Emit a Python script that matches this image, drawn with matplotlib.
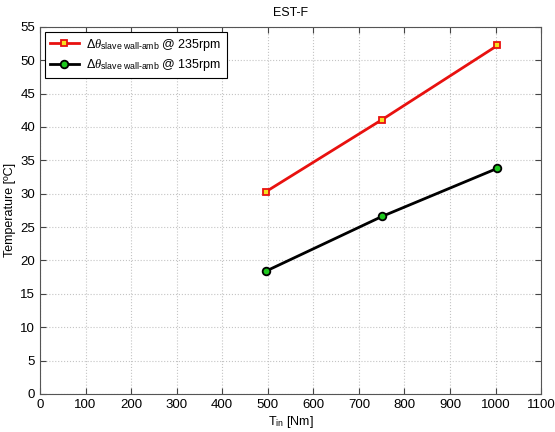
import matplotlib
matplotlib.use("Agg")
import matplotlib.pyplot as plt

plt.rcParams['font.family'] = ['Liberation Sans', 'DejaVu Sans']
plt.rcParams['mathtext.fontset'] = 'custom'
plt.rcParams['mathtext.rm'] = 'Liberation Sans'
plt.rcParams['mathtext.it'] = 'Liberation Serif:italic'

torque_in = [496, 751, 1004]
dtheta_235 = [30.3, 41.1, 52.2]
dtheta_135 = [18.4, 26.6, 33.8]
labels = [r'$\Delta\theta_{\mathrm{slave\ wall\text{-}amb}}$ @ 235rpm',
          r'$\Delta\theta_{\mathrm{slave\ wall\text{-}amb}}$ @ 135rpm']

fig = plt.figure(figsize=(5.55, 4.32), dpi=100)
ax = fig.add_axes([0.072, 0.088, 0.903, 0.85])

ax.plot(torque_in, dtheta_235, color='#e8110f', lw=2, marker='s', ms=5,
        mfc='#f5e020', mec='#e8110f', mew=1.3, label=labels[0])
ax.plot(torque_in, dtheta_135, color='black', lw=2, marker='o', ms=5.5,
        mfc='#1ec81e', mec='black', mew=1.3, label=labels[1])

ax.set_xlim(0, 1100)
ax.set_ylim(0, 55)
ax.set_xticks(range(0, 1101, 100))
ax.set_yticks(range(0, 56, 5))
ax.tick_params(direction='in', top=True, right=True, labelsize=9.5, length=4, color='#444444')
ax.grid(True, linestyle=':', color='#c4c4c4', lw=0.8)
for s in ax.spines.values():
    s.set_color('#555555')
    s.set_linewidth(0.8)

ax.set_title('EST-F', fontsize=9, pad=8)
ax.set_xlabel(r'T$_{\mathrm{in}}$ [Nm]', fontsize=9, labelpad=2)
ax.set_ylabel('Temperature [ºC]', fontsize=9, labelpad=3)

leg = ax.legend(loc='upper left', fontsize=9, fancybox=False, edgecolor='black',
                framealpha=1, borderaxespad=0.4, handlelength=2.3, handletextpad=0.6,
                labelspacing=0.35)
leg.get_frame().set_linewidth(0.8)

fig.savefig('out.png', dpi=100)
